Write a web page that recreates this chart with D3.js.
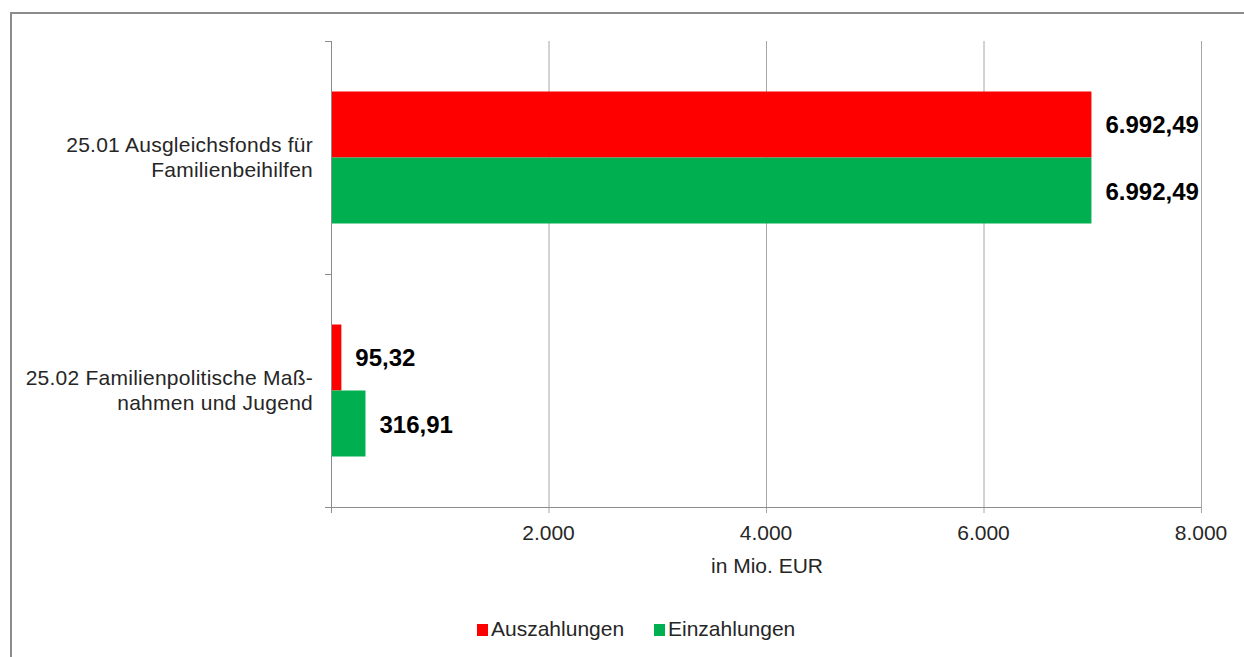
<!DOCTYPE html>
<html>
<head>
<meta charset="utf-8">
<script src="https://cdn.jsdelivr.net/npm/d3@7/dist/d3.min.js"></script>
<style>
  html, body { margin: 0; padding: 0; background: #fff; }
  svg { display: block; font-family: "Liberation Sans", Arial, sans-serif; }
  .tick-label, .cat-label, .axis-label, .legend-label { fill: #262626; font-size: 21px; }
  .cat-label { letter-spacing: 0.25px; }
  .value-label { fill: #000; font-size: 24px; font-weight: bold; }
</style>
</head>
<body>
<svg id="chart" width="1244" height="657"></svg>
<script>
const categories = [
  ['25.01 Ausgleichsfonds für', 'Familienbeihilfen'],
  ['25.02 Familienpolitische Maß-', 'nahmen und Jugend']
];
const seriesNames = ['Auszahlungen', 'Einzahlungen'];
const seriesColors = ['#ff0000', '#00b050'];
const auszahlungen = [6992.49, 95.32];
const einzahlungen = [6992.49, 316.91];
const xTicks = [0, 2000, 4000, 6000, 8000];

const fmtVal = (v) => v.toLocaleString('de-DE', { minimumFractionDigits: 2, maximumFractionDigits: 2 });
const fmtTick = (v) => v.toLocaleString('de-DE');

const width = 1244;
const height = 657;
const plot = { left: 331, right: 1201, top: 41, bottom: 507 };

const svg = d3.select('#chart');

// Rahmen (nur oben und links sichtbar)
svg.append('path')
  .attr('d', `M11,${height} L11,13 L${width},13`)
  .attr('fill', 'none')
  .attr('stroke', '#8c8c8c')
  .attr('stroke-width', 2);

const x = d3.scaleLinear().domain([0, 8000]).range([plot.left, plot.right]);
const y = d3.scaleBand().domain(d3.range(categories.length)).range([plot.top, plot.bottom]);
const inner = d3.scaleBand().domain([0, 1]).range([0, y.bandwidth()]).paddingInner(0).paddingOuter(0.765);

// Gitterlinien
svg.append('g')
  .selectAll('line')
  .data(xTicks.slice(1))
  .join('line')
  .attr('x1', (d) => x(d) + 0.5)
  .attr('x2', (d) => x(d) + 0.5)
  .attr('y1', plot.top)
  .attr('y2', plot.bottom + 6)
  .attr('stroke', '#a6a6a6')
  .attr('stroke-width', 1);

const rows = d3.range(categories.length).map((i) => [auszahlungen[i], einzahlungen[i]]);

const groups = svg.append('g')
  .selectAll('g')
  .data(rows)
  .join('g')
  .attr('transform', (d, i) => `translate(0,${y(i)})`);

groups.selectAll('rect')
  .data((d) => d)
  .join('rect')
  .attr('x', x(0))
  .attr('y', (d, j) => inner(j))
  .attr('width', (d) => x(d) - x(0))
  .attr('height', inner.bandwidth())
  .attr('fill', (d, j) => seriesColors[j]);

groups.selectAll('text')
  .data((d) => d)
  .join('text')
  .attr('class', 'value-label')
  .attr('x', (d) => x(d) + 14)
  .attr('y', (d, j) => inner(j) + inner.bandwidth() / 2 + 9)
  .text((d) => fmtVal(d));

// Achsen
const xAxis = svg.append('g');
xAxis.append('line')
  .attr('x1', plot.left - 6).attr('x2', plot.right)
  .attr('y1', plot.bottom + 0.5).attr('y2', plot.bottom + 0.5)
  .attr('stroke', '#8c8c8c');
xAxis.append('line')
  .attr('x1', x(0) + 0.5).attr('x2', x(0) + 0.5)
  .attr('y1', plot.bottom).attr('y2', plot.bottom + 6)
  .attr('stroke', '#8c8c8c');
xAxis.selectAll('text')
  .data(xTicks.slice(1))
  .join('text')
  .attr('class', 'tick-label')
  .attr('x', (d) => x(d))
  .attr('y', 540)
  .attr('text-anchor', 'middle')
  .text((d) => fmtTick(d));

const yAxis = svg.append('g');
yAxis.append('line')
  .attr('x1', plot.left + 0.5).attr('x2', plot.left + 0.5)
  .attr('y1', plot.top).attr('y2', plot.bottom)
  .attr('stroke', '#8c8c8c');
yAxis.selectAll('line.ytick')
  .data([plot.top, y(1), plot.bottom])
  .join('line')
  .attr('class', 'ytick')
  .attr('x1', plot.left - 6).attr('x2', plot.left)
  .attr('y1', (d) => d + 0.5).attr('y2', (d) => d + 0.5)
  .attr('stroke', '#8c8c8c');

svg.append('g')
  .selectAll('text')
  .data(categories)
  .join('text')
  .attr('class', 'cat-label')
  .attr('text-anchor', 'end')
  .attr('x', 313)
  .attr('y', (d, i) => y(i) + y.bandwidth() / 2 - 5.5)
  .selectAll('tspan')
  .data((d) => d)
  .join('tspan')
  .attr('x', 313)
  .attr('dy', (d, k) => (k === 0 ? 0 : 25))
  .text((d) => d);

svg.append('text')
  .attr('class', 'axis-label')
  .attr('x', (plot.left + plot.right) / 2 + 1)
  .attr('y', 573)
  .attr('text-anchor', 'middle')
  .text('in Mio. EUR');

// Legende
const legendX = [477, 654];
const legend = svg.append('g')
  .selectAll('g')
  .data(seriesNames)
  .join('g')
  .attr('transform', (d, i) => `translate(${legendX[i]},624)`);
legend.append('rect')
  .attr('width', 11).attr('height', 12)
  .attr('fill', (d, i) => seriesColors[i]);
legend.append('text')
  .attr('class', 'legend-label')
  .attr('x', 14)
  .attr('y', 12)
  .text((d) => d);
</script>
</body>
</html>
